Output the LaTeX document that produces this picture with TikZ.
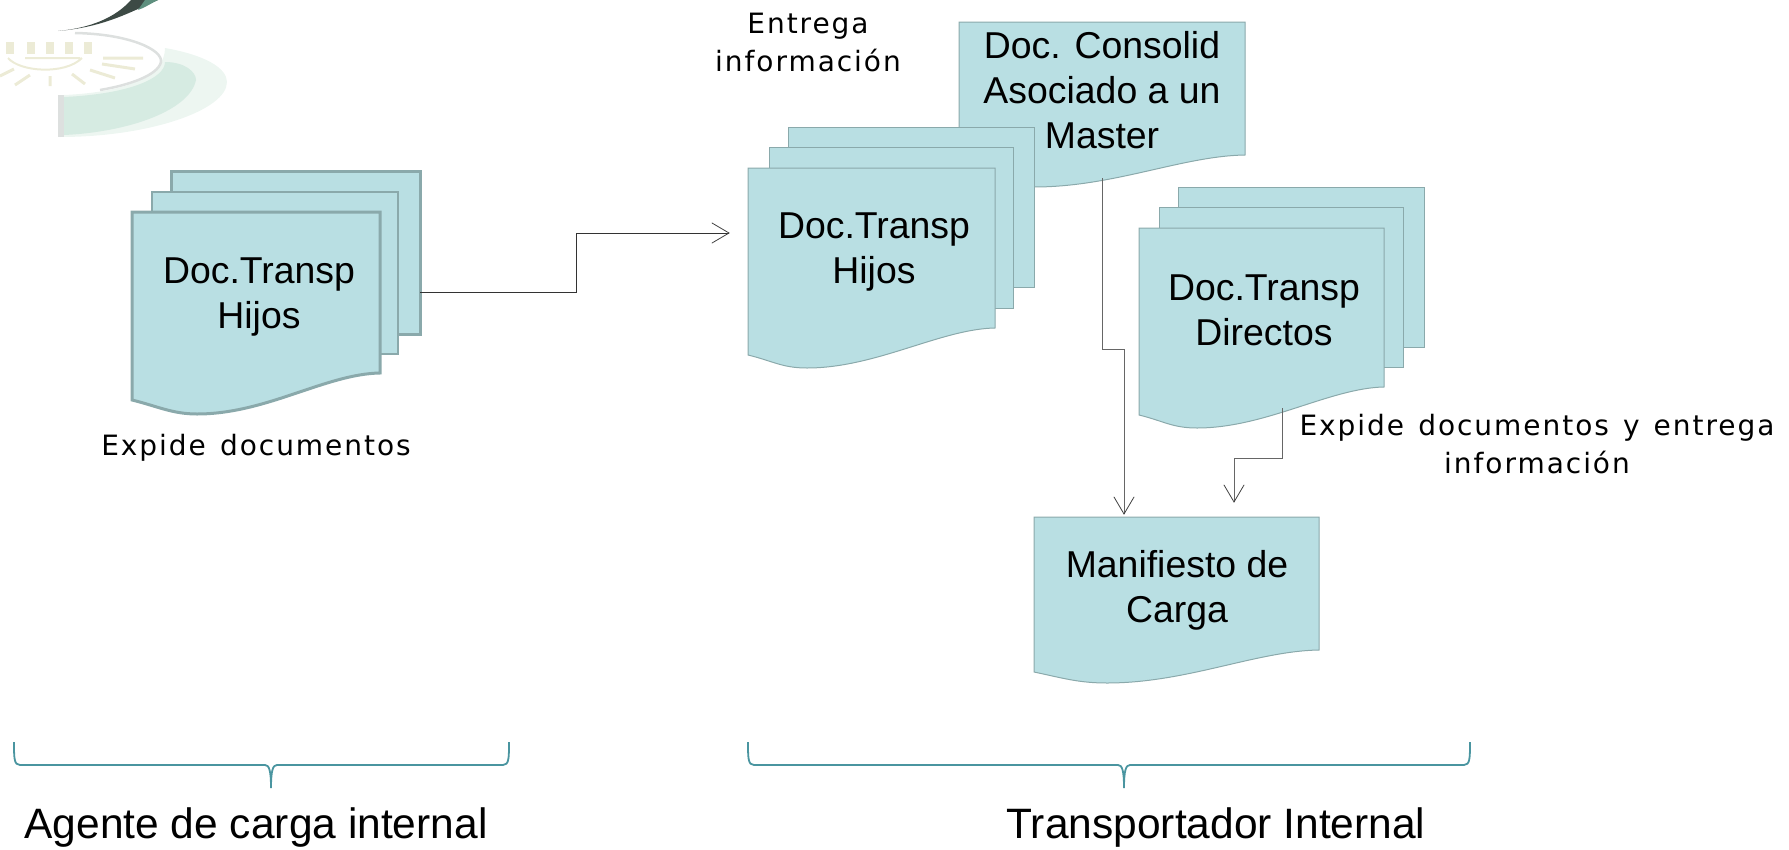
\documentclass[tikz,border=0pt]{standalone}
\usepackage{fontspec}
\usetikzlibrary{calc}
\setmainfont{Liberation Sans}
\newfontfamily\labelfont[LetterSpace=7,WordSpace=1.3]{DejaVu Sans}
\definecolor{docfill}{HTML}{B9DFE3}
\definecolor{docedge}{HTML}{8AA9AB}
\definecolor{bracecol}{HTML}{4A95A0}
\definecolor{linecol}{HTML}{666666}
\definecolor{swoosh}{HTML}{3D4A45}
\definecolor{swooshtip}{HTML}{5E8F7E}
\definecolor{logopale}{HTML}{EDF6F1}
\definecolor{logogreen}{HTML}{D6EBE2}
\definecolor{logogray}{HTML}{DDE0DF}
\definecolor{sunbar}{HTML}{ECEBD6}
\tikzset{
  thindoc/.style={draw=docedge,fill=docfill,line width=1pt,line join=miter},
  thickdoc/.style={draw=docedge,fill=docfill,line width=3pt,line join=miter},
  doctext/.style={font=\fontsize{37.4}{45}\selectfont,align=center,anchor=base,inner sep=0pt,text=black},
  smalltext/.style={font=\labelfont\fontsize{28}{38}\selectfont,align=center,anchor=base,inner sep=0pt,text=black},
  bigtext/.style={font=\fontsize{42.5}{50}\selectfont,anchor=base,inner sep=0pt,text=black},
  conn/.style={draw=linecol,line width=1pt},
  openarrow/.style={draw=black!75,line width=.8pt,line cap=round},
  bracket/.style={draw=bracecol,line width=1.8pt},
}
% x1,ytop,x2,yright,yleft,xlow,ylow
\newcommand{\docsheet}[8][thindoc]{%
  \path[#1] (#2,#3) -- (#4,#3) -- (#4,#5)
    .. controls ({#4-0.22*(#4-#2)},{#5+1}) and ({#7+0.28*(#4-#2)},#8) .. (#7,#8)
    .. controls ({#7-0.1*(#4-#2)},#8) and ({#2+0.1*(#4-#2)},{#6+6}) .. (#2,#6) -- cycle;}
\newcommand{\bracedown}[3]{%
  \draw[bracket] (#1,742) .. controls (#1,758) and (#1,765) .. ({#1+6},765) -- ({#3-6},765)
    .. controls ({#3-2},765) and (#3,770) .. (#3,788)
    .. controls (#3,770) and ({#3+2},765) .. ({#3+6},765) -- ({#2-6},765)
    .. controls (#2,765) and (#2,758) .. (#2,742);}
\newcommand{\headdown}[1]{\draw[openarrow] ($(#1)+(-10,-17)$) -- (#1) -- ($(#1)+(10,-17)$);}
\newcommand{\headright}[1]{\draw[openarrow] ($(#1)+(-17,-10)$) -- (#1) -- ($(#1)+(-17,10)$);}
\begin{document}
\begin{tikzpicture}[x=1pt,y=-1pt]
\useasboundingbox (0,0) rectangle (1789,849);
% logo
\fill[logopale] (64,95) .. controls (130,92) and (165,75) .. (165,48)
   .. controls (205,55) and (227,68) .. (227,82)
   .. controls (227,110) and (150,137) .. (60,137) -- cycle;
\fill[logogreen] (64,97) .. controls (130,94) and (165,78) .. (165,62)
   .. controls (185,62) and (196,72) .. (196,80)
   .. controls (190,110) and (130,132) .. (64,135) -- cycle;
\fill[logogray] (58,95) rectangle (64,137);
\draw[logogray,line width=2.5pt] (75,33) .. controls (130,34) and (163,50) .. (161,62) .. controls (158,75) and (130,85) .. (100,90);
\fill[swoosh] (58,31) .. controls (90,28) and (115,18) .. (131,0) -- (158,0)
   .. controls (130,12) and (105,27) .. (58,31) -- cycle;
\fill[swooshtip] (145,0) -- (158,0) .. controls (150,4) and (144,8) .. (138,10) -- cycle;
\foreach \bx in {10,31,50,69,88} \fill[sunbar] (\bx-4,42) rectangle (\bx+4,54);
\draw[sunbar,line width=2pt] (8,58) .. controls (20,72) and (65,75) .. (82,58) (25,58) -- (80,58);
\draw[sunbar,line width=3pt] (103,58) -- (143,58) (102,64) -- (135,69) (90,70) -- (115,78)
   (72,74) -- (85,84) (50,76) -- (50,86) (30,75) -- (15,85) (14,69) -- (0,76);
% left stack
\path[thickdoc] (171,171) rectangle (420,334);
\path[thickdoc,line width=2.4pt] (152,192) rectangle (398,354);
\docsheet[thickdoc]{132}{212}{380}{373}{400}{197}{414}
\node[doctext] (hijosA) at (259,328) {Doc.Transp\\Hijos};
% centre documents
\docsheet{959}{22}{1245}{155}{176}{1034}{187}
\node[doctext] (consol) at (1102,148) {Doc. Consolid\\Asociado a un\\Master};
\path[thindoc] (788,127) rectangle (1034,287);
\path[thindoc] (769,147) rectangle (1013,308);
\docsheet{748}{168}{995}{328}{355}{807}{368}
\node[doctext] (hijosB) at (874,283) {Doc.Transp\\Hijos};
% direct documents
\path[thindoc] (1178,187) rectangle (1424,347);
\path[thindoc] (1159,207) rectangle (1403,367);
\docsheet{1139}{228}{1384}{387}{415}{1197}{428}
\node[doctext] (directos) at (1264,345) {Doc.Transp\\Directos};
% manifest
\docsheet{1034}{517}{1319}{650}{672}{1107}{683}
\node[doctext] (manif) at (1177,622) {Manifiesto de\\Carga};
% connector ends
\coordinate (aStart) at (420,292);
\coordinate (aEnd) at (729,233);
\coordinate (bStart) at (1102,178);
\coordinate (bEnd) at (1124,514);
\coordinate (cStart) at (1282,408);
\coordinate (cEnd) at (1234,502);
\draw[draw=black!80,line width=1pt] (aStart) -- (576,292) -- (576,233) -- (aEnd);
\headright{aEnd}
\draw[conn] (bStart) -- (1102,349) -- (1124,349) -- (bEnd);
\headdown{bEnd}
\draw[conn] (cStart) -- (1282,458) -- (1234,458) -- (cEnd);
\headdown{cEnd}
% labels
\node[smalltext] (lblA) at (808,71) {Entrega\\información};
\node[smalltext] (lblB) at (256,455) {Expide documentos};
\node[smalltext] (lblC) at (1537,473) {Expide documentos y entrega\\información};
% braces
\bracedown{14}{509}{271}
\bracedown{748}{1470}{1124}
\node[bigtext] (agente) at (256,838) {Agente de carga internal};
\node[bigtext] (transp) at (1216,838) {Transportador Internal};
\end{tikzpicture}
\end{document}
